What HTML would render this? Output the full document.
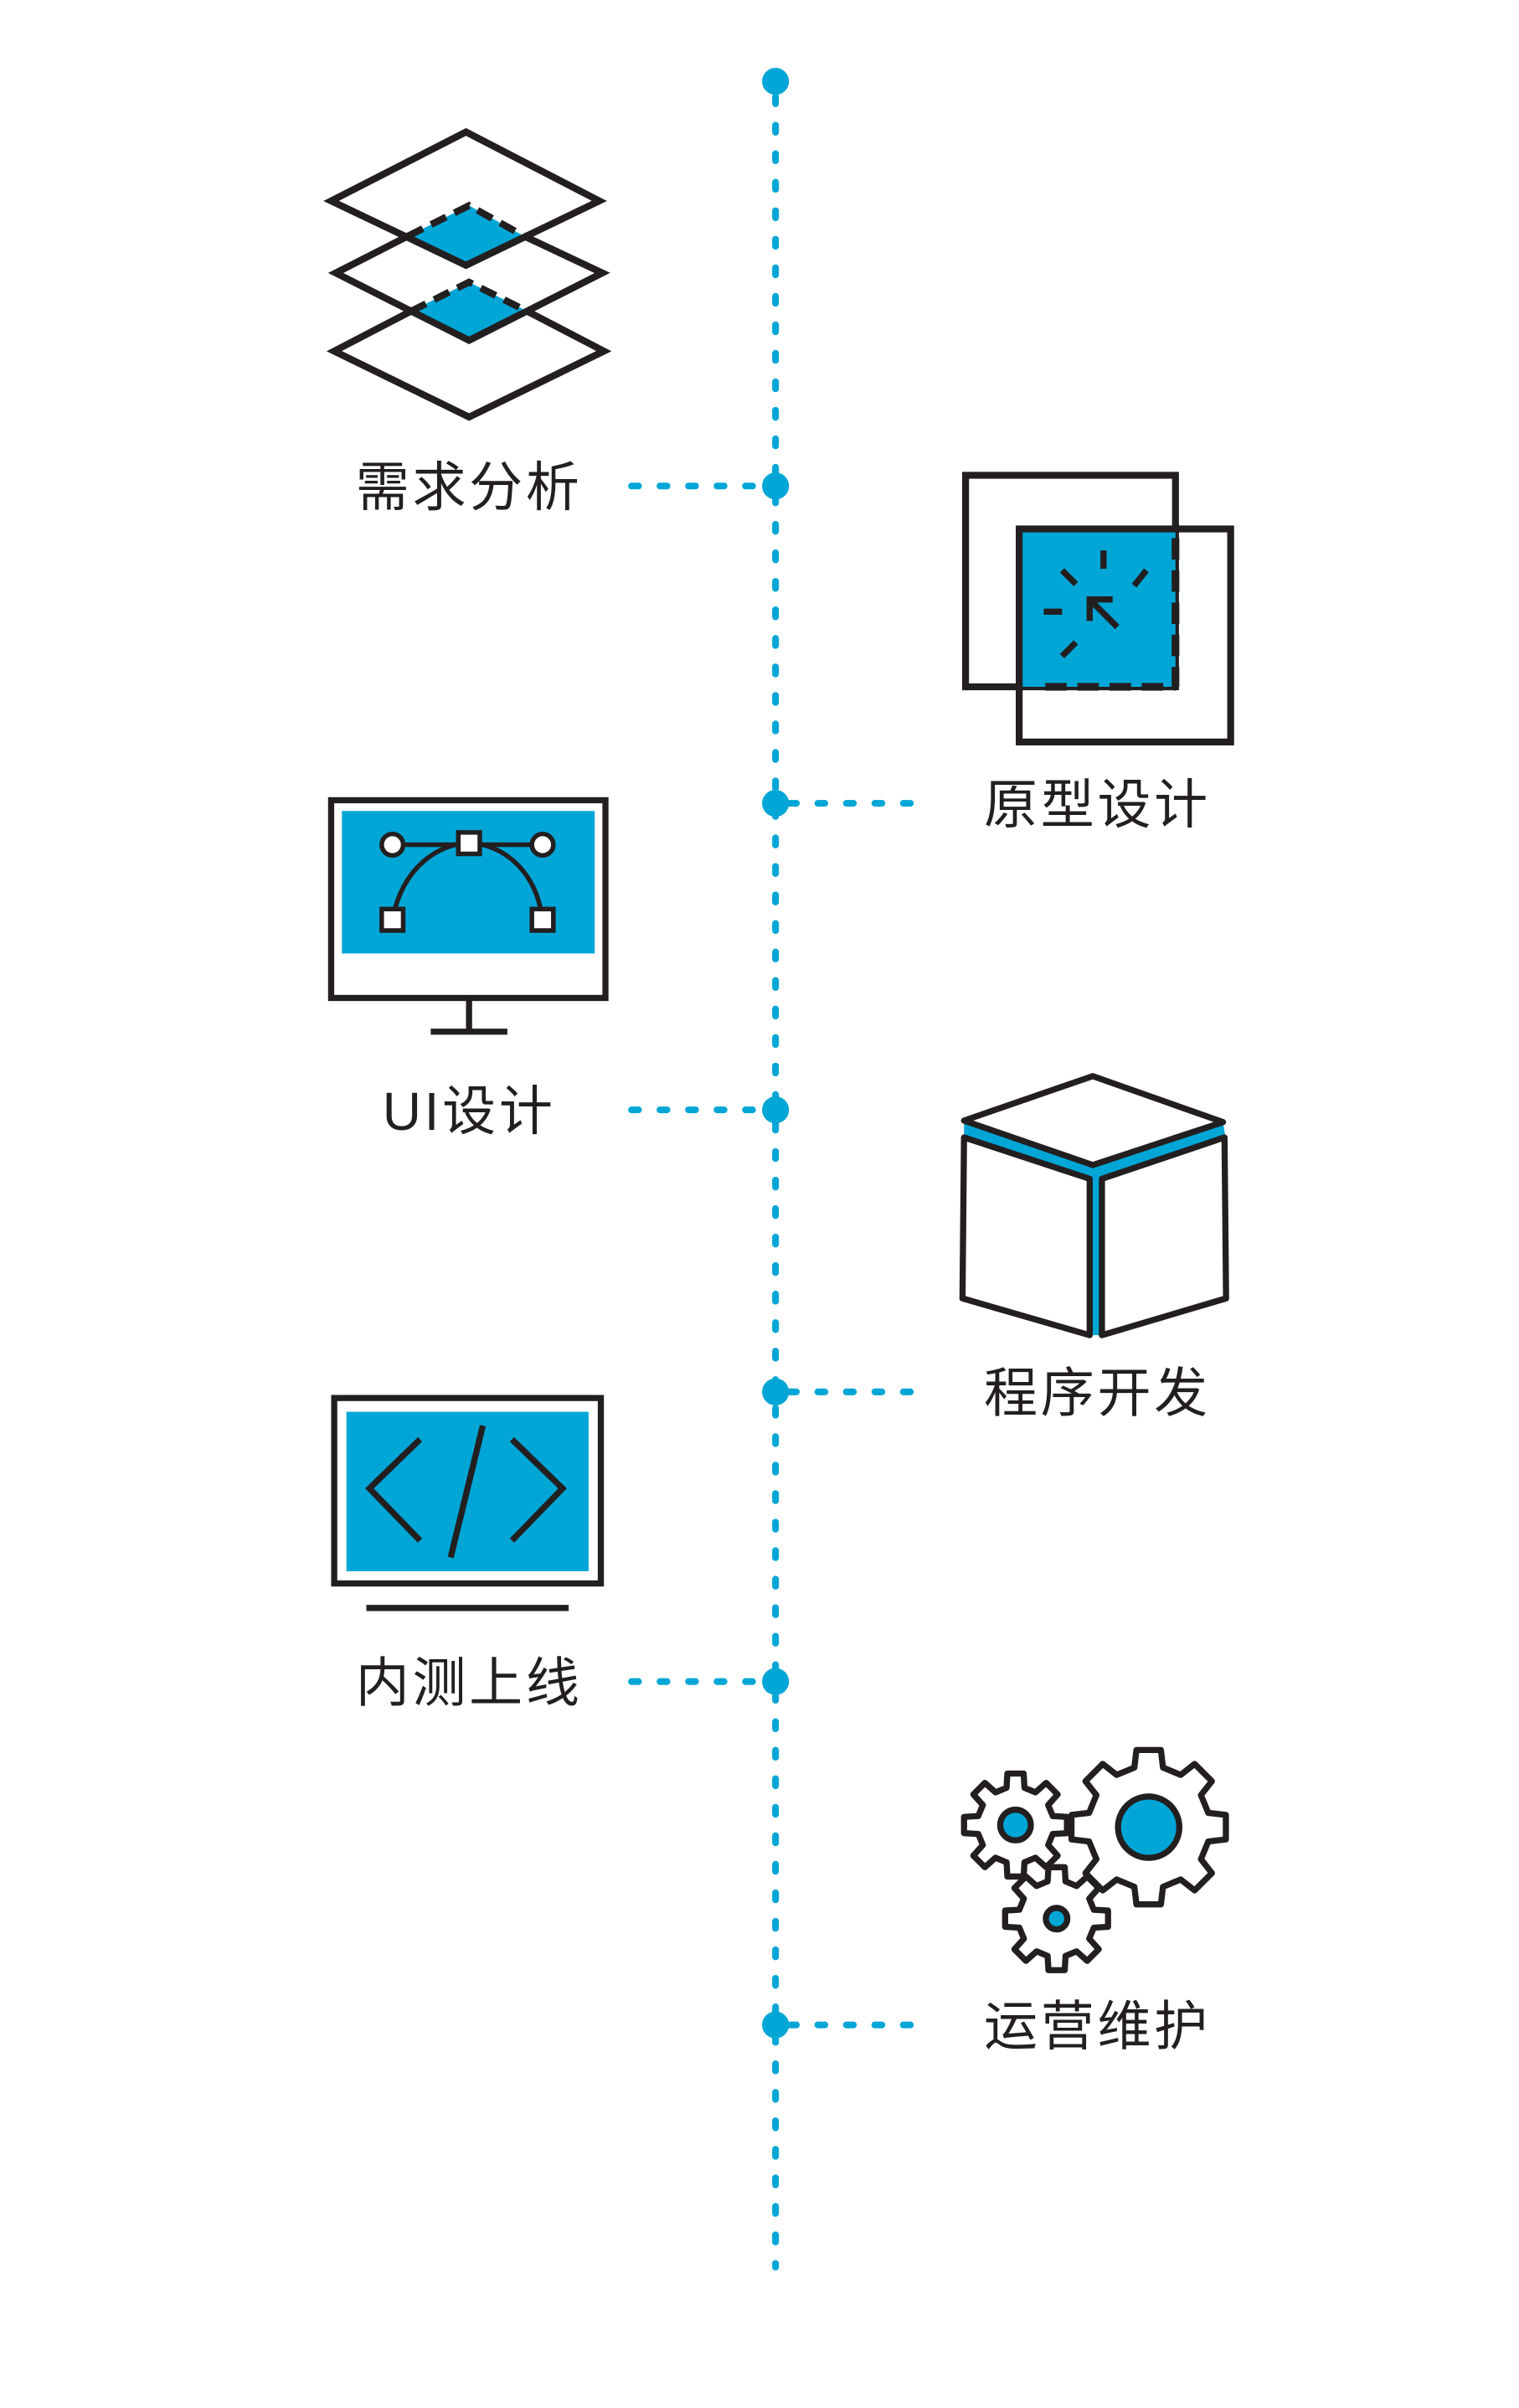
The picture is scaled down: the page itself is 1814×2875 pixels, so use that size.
<!DOCTYPE html>
<html><head><meta charset="utf-8"><style>
html,body{margin:0;padding:0;background:#fff;}
svg{display:block;}
text{font-family:"Liberation Sans","Noto Sans CJK SC",sans-serif;fill:#231f20;font-size:35px;}
</style></head><body>
<svg width="1814" height="2875" viewBox="0 0 1814 2875" xmlns="http://www.w3.org/2000/svg">
<rect width="1814" height="2875" fill="#fff"/>
<g transform="translate(2,2) scale(1.83)">
<!-- timeline -->
<g stroke="#00a6d6" stroke-width="4.4" stroke-linecap="round" stroke-dasharray="4.6 14" fill="none">
<line x1="505" y1="62" x2="505" y2="1478"/>
<line x1="411" y1="316" x2="496" y2="316"/>
<line x1="411" y1="723" x2="496" y2="723"/>
<line x1="411" y1="1096" x2="496" y2="1096"/>
<line x1="514" y1="523" x2="596" y2="523"/>
<line x1="514" y1="907" x2="596" y2="907"/>
<line x1="514" y1="1320" x2="596" y2="1320"/>
</g>
<g fill="#00a6d6">
<circle cx="505" cy="52" r="8.8"/><circle cx="505" cy="316" r="8.8"/><circle cx="505" cy="523" r="8.8"/>
<circle cx="505" cy="723" r="8.8"/><circle cx="505" cy="907" r="8.8"/><circle cx="505" cy="1096" r="8.8"/>
<circle cx="505" cy="1320" r="8.8"/>
</g>
<!-- labels -->
<text x="305" y="329" text-anchor="middle" letter-spacing="2">需求分析</text>
<text x="715" y="536" text-anchor="middle" letter-spacing="2">原型设计</text>
<text x="305" y="736" text-anchor="middle" letter-spacing="2">UI设计</text>
<text x="715" y="920" text-anchor="middle" letter-spacing="2">程序开发</text>
<text x="305" y="1109" text-anchor="middle" letter-spacing="2">内测上线</text>
<text x="715" y="1333" text-anchor="middle" letter-spacing="2">运营维护</text>

<!-- layers icon -->
<g stroke="#231f20" stroke-width="4.5" fill="none" stroke-linejoin="miter">
<polygon points="265,153 305,133 341,153 303,172" fill="#00a6d6" stroke="none"/>
<polygon points="267,202 305,183 343,202 305,221" fill="#00a6d6" stroke="none"/>
<polygon points="215,130 303,85 390,130 303,172"/>
<polyline points="265,153 218,177 305,221 392,177 341,153"/>
<polyline points="267,202 217,228 305,271 393,228 343,202"/>
<polyline points="265,153 305,133 341,153" stroke-dasharray="11 6"/>
<polyline points="267,202 305,183 343,202" stroke-dasharray="11 6"/>
</g>

<!-- prototype icon -->
<g stroke="#231f20" stroke-width="4.5" fill="none">
<rect x="629" y="309" width="137" height="138"/>
<rect x="664" y="344" width="102" height="103" fill="#00a6d6" stroke="none"/>
<rect x="664" y="344" width="138" height="139"/>
<line x1="766" y1="350" x2="766" y2="447" stroke-dasharray="14 7" stroke-width="5"/>
<line x1="681" y1="447" x2="766" y2="447" stroke-dasharray="14 7" stroke-width="5"/>
<g stroke-width="4">
<line x1="719" y1="358" x2="719" y2="370"/>
<line x1="692" y1="371" x2="701" y2="380"/>
<line x1="747" y1="371" x2="739" y2="381"/>
<line x1="680" y1="398" x2="692" y2="398"/>
<line x1="692" y1="427" x2="701" y2="418"/>
<line x1="728" y1="408" x2="710" y2="390"/>
<polyline points="710,404 710,390 725,390"/>
</g>
</g>

<!-- UI monitor -->
<g stroke="#231f20" stroke-width="4" fill="none">
<rect x="215" y="521" width="179" height="129" fill="#fff"/>
<rect x="222" y="528" width="165" height="93" fill="#00a6d6" stroke="none"/>
<line x1="305" y1="650" x2="305" y2="671"/>
<line x1="280" y1="672" x2="330" y2="672"/>
<line x1="255" y1="550" x2="353" y2="550" stroke-width="3"/>
<path d="M255,599 C262,562 288,549 305,549 C322,549 348,562 353,599" stroke-width="3"/>
<circle cx="255" cy="550" r="7" fill="#fff" stroke-width="3"/>
<circle cx="353" cy="550" r="7" fill="#fff" stroke-width="3"/>
<rect x="298" y="542" width="14" height="14" fill="#fff" stroke-width="3"/>
<rect x="248" y="592" width="14" height="14" fill="#fff" stroke-width="3"/>
<rect x="346" y="592" width="14" height="14" fill="#fff" stroke-width="3"/>
</g>

<!-- cube -->
<g stroke="#231f20" stroke-width="4" stroke-linejoin="round">
<polygon points="628,730 712,759 797,731 799,743 718,768 718,870 710,870 710,768 628,742" fill="#00a6d6" stroke="none"/>
<polygon points="628,730 712,701 797,731 712,759" fill="#fff"/>
<polygon points="628,741 710,768 710,870 627,846" fill="#fff"/>
<polygon points="718,768 798,741 799,846 718,870" fill="#fff"/>
</g>

<!-- code monitor -->
<g stroke="#231f20" stroke-width="4" fill="none">
<rect x="217" y="911" width="174" height="121"/>
<rect x="225" y="920" width="158" height="104" fill="#00a6d6" stroke="none"/>
<line x1="238" y1="1048" x2="370" y2="1048"/>
<polyline points="273,938 240,970 273,1004"/>
<line x1="314" y1="929" x2="293" y2="1015"/>
<polyline points="333,938 366,970 333,1004"/>
</g>

<!-- gears -->
<g id="gears" stroke="#231f20" stroke-width="4" stroke-linejoin="round" fill="#fff"></g>
</g>
</svg>
<script>
(function(){
function gear(cx,cy,ro,ri,n){
 var pts=[],step=2*Math.PI/n;
 for(var i=0;i<n;i++){
  var a=-Math.PI/2+i*step;
  var tw=step*0.2, rw=step*0.3;
  pts.push([a-rw,ri],[a-tw,ro],[a+tw,ro],[a+rw,ri]);
 }
 return 'M'+pts.map(function(p){return (cx+p[1]*Math.cos(p[0])).toFixed(2)+','+(cy+p[1]*Math.sin(p[0])).toFixed(2);}).join(' L')+'Z';
}
var g=document.getElementById('gears');var ns='http://www.w3.org/2000/svg';
function add(cx,cy,ro,ri,n,rc){
 var p=document.createElementNS(ns,'path');p.setAttribute('d',gear(cx,cy,ro,ri,n));g.appendChild(p);
 var c=document.createElementNS(ns,'circle');c.setAttribute('cx',cx);c.setAttribute('cy',cy);c.setAttribute('r',rc);c.setAttribute('fill','#00a6d6');g.appendChild(c);
}
add(661.6,1189.6,34,25,8,10);
add(688.4,1250.7,34,25,8,7);
add(748.5,1191,51,40,8,20);
})();
</script>
</body></html>
